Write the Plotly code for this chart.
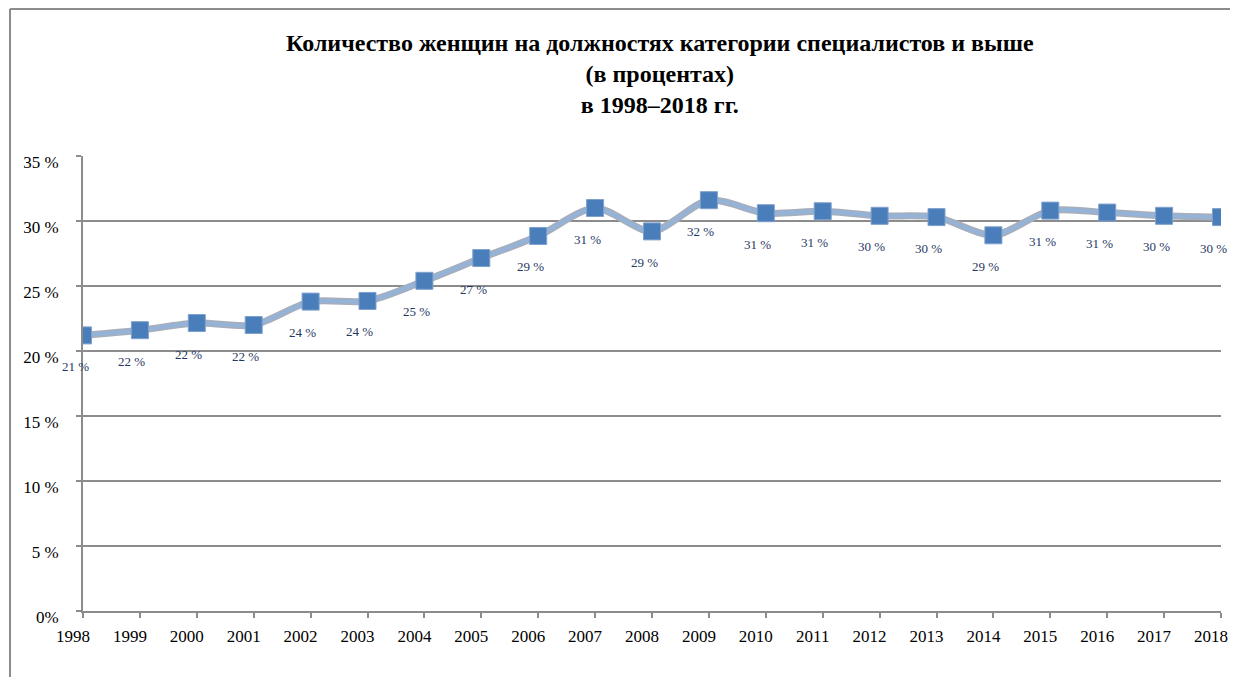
import plotly.graph_objects as go

years = [1998, 1999, 2000, 2001, 2002, 2003, 2004, 2005, 2006, 2007, 2008,
         2009, 2010, 2011, 2012, 2013, 2014, 2015, 2016, 2017, 2018]
shares = [21.2, 21.6, 22.15, 22.0, 23.8, 23.85, 25.4, 27.15, 28.85, 31.0, 29.2,
          31.6, 30.6, 30.75, 30.4, 30.3, 28.9, 30.8, 30.65, 30.4, 30.3]
labels = ["21 %", "22 %", "22 %", "22 %", "24 %", "24 %", "25 %", "27 %", "29 %", "31 %", "29 %",
          "32 %", "31 %", "31 %", "30 %", "30 %", "29 %", "31 %", "31 %", "30 %", "30 %"]
y_ticks = [0, 5, 10, 15, 20, 25, 30, 35]
y_ticktext = ["0%", "5 %", "10 %", "15 %", "20 %", "25 %", "30 %", "35 %"]
title_lines = ["Количество женщин на должностях категории специалистов и выше",
               "(в процентах)",
               "в 1998–2018 гг."]

SERIF = "'Liberation Serif', 'Times New Roman', 'DejaVu Serif', serif"

# page has an 8px body margin; compensate so the figure lands where the reference is
OFF = 8
W, H = 1238 - OFF, 677 - OFF
ML, MR, MT, MB = 83 - OFF, 17, 156 - OFF, 66
pw, ph = W - ML - MR, H - MT - MB

def px_x(page_x):
    return (page_x - OFF - ML) / pw

def px_y(page_y):
    return (H - MB - (page_y - OFF)) / ph

fig = go.Figure()
fig.add_trace(go.Scatter(x=years, y=shares, mode="lines",
                         line=dict(color="#A7AEBB", width=7, shape="spline", smoothing=0.8),
                         hoverinfo="skip", showlegend=False))
fig.add_trace(go.Scatter(x=years, y=shares, mode="lines+markers",
                         line=dict(color="#95B3D7", width=4, shape="spline", smoothing=0.8),
                         marker=dict(symbol="square", size=17, color="#4A7EBB",
                                     line=dict(color="#7FA0CC", width=1)),
                         showlegend=False))

annotations = []
for x, y, t in zip(years, shares, labels):
    annotations.append(dict(x=x, y=y, xref="x", yref="y", text=t, showarrow=False,
                            xshift=-8, yshift=-31,
                            font=dict(family=SERIF, size=13, color="#1F3864")))

annotations.append(dict(x=px_x(660), y=px_y(74), xref="paper", yref="paper",
                        text="<br>".join("<b>%s</b>" % s for s in title_lines),
                        showarrow=False, xanchor="center", yanchor="middle",
                        font=dict(family=SERIF, size=24, color="#000000"),
                        align="center"))

shapes = [
    dict(type="line", xref="paper", yref="paper",
         x0=px_x(10), x1=px_x(1240), y0=px_y(9), y1=px_y(9),
         line=dict(color="#8C8C8C", width=2)),
    dict(type="line", xref="paper", yref="paper",
         x0=px_x(10), x1=px_x(10), y0=px_y(9), y1=px_y(680),
         line=dict(color="#8C8C8C", width=2)),
]

fig.update_layout(
    width=W, height=H,
    margin=dict(l=ML, r=MR, t=MT, b=MB, autoexpand=False),
    paper_bgcolor="white", plot_bgcolor="white",
    annotations=annotations, shapes=shapes,
    font=dict(family=SERIF, size=17, color="#000000"),
)
fig.update_xaxes(range=[1998, 2018], tickmode="array", tickvals=years,
                 ticktext=[str(y) for y in years],
                 showgrid=False, showline=True, linecolor="#8C8C8C", linewidth=2,
                 ticks="outside", ticklen=5, tickcolor="#8C8C8C", tickwidth=1.5,
                 ticklabelstandoff=4, ticklabelshift=-10, zeroline=False,
                 tickfont=dict(family=SERIF, size=17, color="#000000"))
fig.update_yaxes(range=[0, 35], tickmode="array", tickvals=y_ticks, ticktext=y_ticktext,
                 showgrid=True, gridcolor="#8C8C8C", gridwidth=1.5,
                 showline=True, linecolor="#8C8C8C", linewidth=2,
                 ticks="outside", ticklen=5, tickcolor="#8C8C8C", tickwidth=1.5,
                 ticklabelstandoff=14, ticklabelshift=6, zeroline=False,
                 tickfont=dict(family=SERIF, size=17, color="#000000"))

fig.write_html("out.html")
